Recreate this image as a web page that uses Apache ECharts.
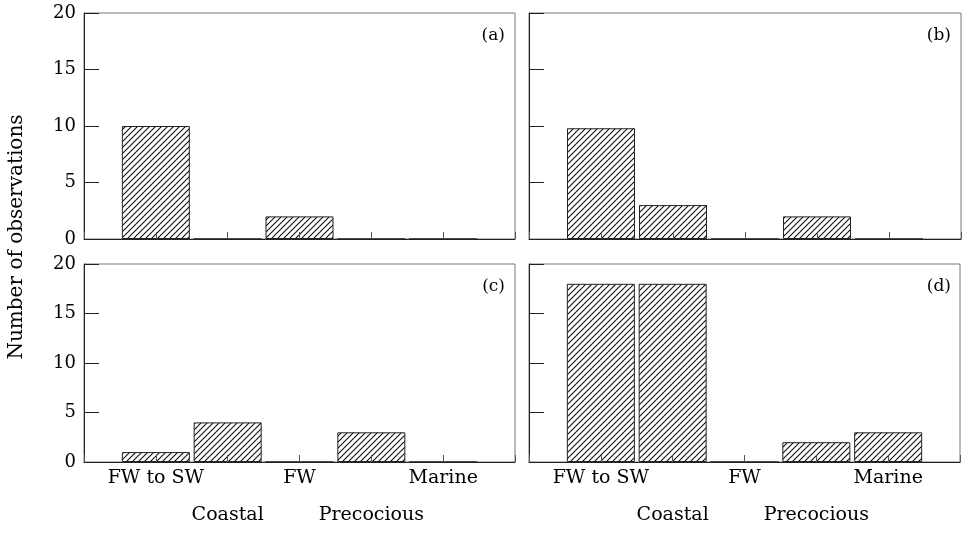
<!DOCTYPE html>
<html>
<head>
<meta charset="utf-8">
<script src="https://cdn.jsdelivr.net/npm/echarts@6/dist/echarts.min.js"></script>
<style>
html, body { margin: 0; padding: 0; background: #fff; }
#container { width: 963px; height: 557px; }
</style>
</head>
<body>
<div id="container"></div>
<script>
// categories padded with empty slots at both ends
let categories = ['', 'FW to SW', 'Coastal', 'FW', 'Precocious', 'Marine', ''];
let panelA = [null, 10, 0, 2, 0, 0, null];
let panelB = [null, 9.8, 3, 0, 2, 0, null];
let panelC = [null, 1, 4, 0, 3, 0, null];
let panelD = [null, 18, 18, 0, 2, 3, null];
let panelNames = ['(a)', '(b)', '(c)', '(d)'];
let yTicks = { min: 0, max: 20, interval: 5 };

let font = 'DejaVu Serif';

// hatch pattern
let hatch = document.createElement('canvas');
hatch.width = 6;
hatch.height = 6;
let ctx = hatch.getContext('2d');
ctx.fillStyle = '#fff';
ctx.fillRect(0, 0, 6, 6);
ctx.strokeStyle = '#111';
ctx.lineWidth = 1.1;
ctx.beginPath();
ctx.moveTo(-1, 7); ctx.lineTo(7, -1);
ctx.moveTo(-1, 1); ctx.lineTo(1, -1);
ctx.moveTo(5, 7); ctx.lineTo(7, 5);
ctx.stroke();

let grids = [
    { left: 84, top: 13, width: 431, height: 226 },
    { left: 529, top: 13, width: 432, height: 226 },
    { left: 84, top: 264, width: 431, height: 198 },
    { left: 529, top: 264, width: 432, height: 198 }
];

let xAxes = grids.map((g, i) => ({
    type: 'category',
    gridIndex: i,
    data: categories,
    boundaryGap: false,
    z: 5,
    axisLine: { lineStyle: { color: '#222', width: 1 } },
    axisTick: { inside: true, length: 7, interval: 0, lineStyle: { color: '#555' } },
    axisLabel: {
        show: i >= 2,
        interval: 0,
        margin: 7,
        fontFamily: font,
        fontSize: 19,
        color: '#000',
        lineHeight: 18.5,
        formatter: (v, idx) => (idx % 2 === 0 ? '\n\n' + v : v)
    }
}));

let yAxes = grids.map((g, i) => ({
    type: 'value',
    gridIndex: i,
    min: yTicks.min,
    max: yTicks.max,
    interval: yTicks.interval,
    splitLine: { show: false },
    axisLine: { show: true, lineStyle: { color: '#222', width: 1 } },
    axisTick: { show: true, inside: true, length: 15, lineStyle: { color: '#222' } },
    axisLabel: {
        show: i % 2 === 0,
        margin: 8,
        fontFamily: font,
        fontSize: 18,
        color: '#000'
    }
}));

let series = [panelA, panelB, panelC, panelD].map((d, i) => ({
    type: 'bar',
    xAxisIndex: i,
    yAxisIndex: i,
    data: d,
    barWidth: 68,
    itemStyle: {
        color: { image: hatch, repeat: 'repeat' },
        borderColor: '#222',
        borderWidth: 1
    }
}));

let chart = echarts.init(document.getElementById('container'));
chart.setOption({
    animation: false,
    grid: grids.map(g => Object.assign({ show: true, borderColor: '#777', borderWidth: 1 }, g)),
    xAxis: xAxes,
    yAxis: yAxes,
    series: series,
    graphic: [
        {
            type: 'text',
            x: 17,
            y: 237,
            rotation: Math.PI / 2,
            style: {
                text: 'Number of observations',
                font: '20px "DejaVu Serif"',
                fill: '#000',
                align: 'center',
                verticalAlign: 'middle'
            }
        }
    ].concat(grids.map((g, i) => ({
        type: 'text',
        x: g.left + g.width - 10,
        y: g.top + 14,
        style: {
            text: panelNames[i],
            font: '17px "DejaVu Serif"',
            fill: '#000',
            align: 'right',
            verticalAlign: 'top'
        }
    })))
});
</script>
</body>
</html>
